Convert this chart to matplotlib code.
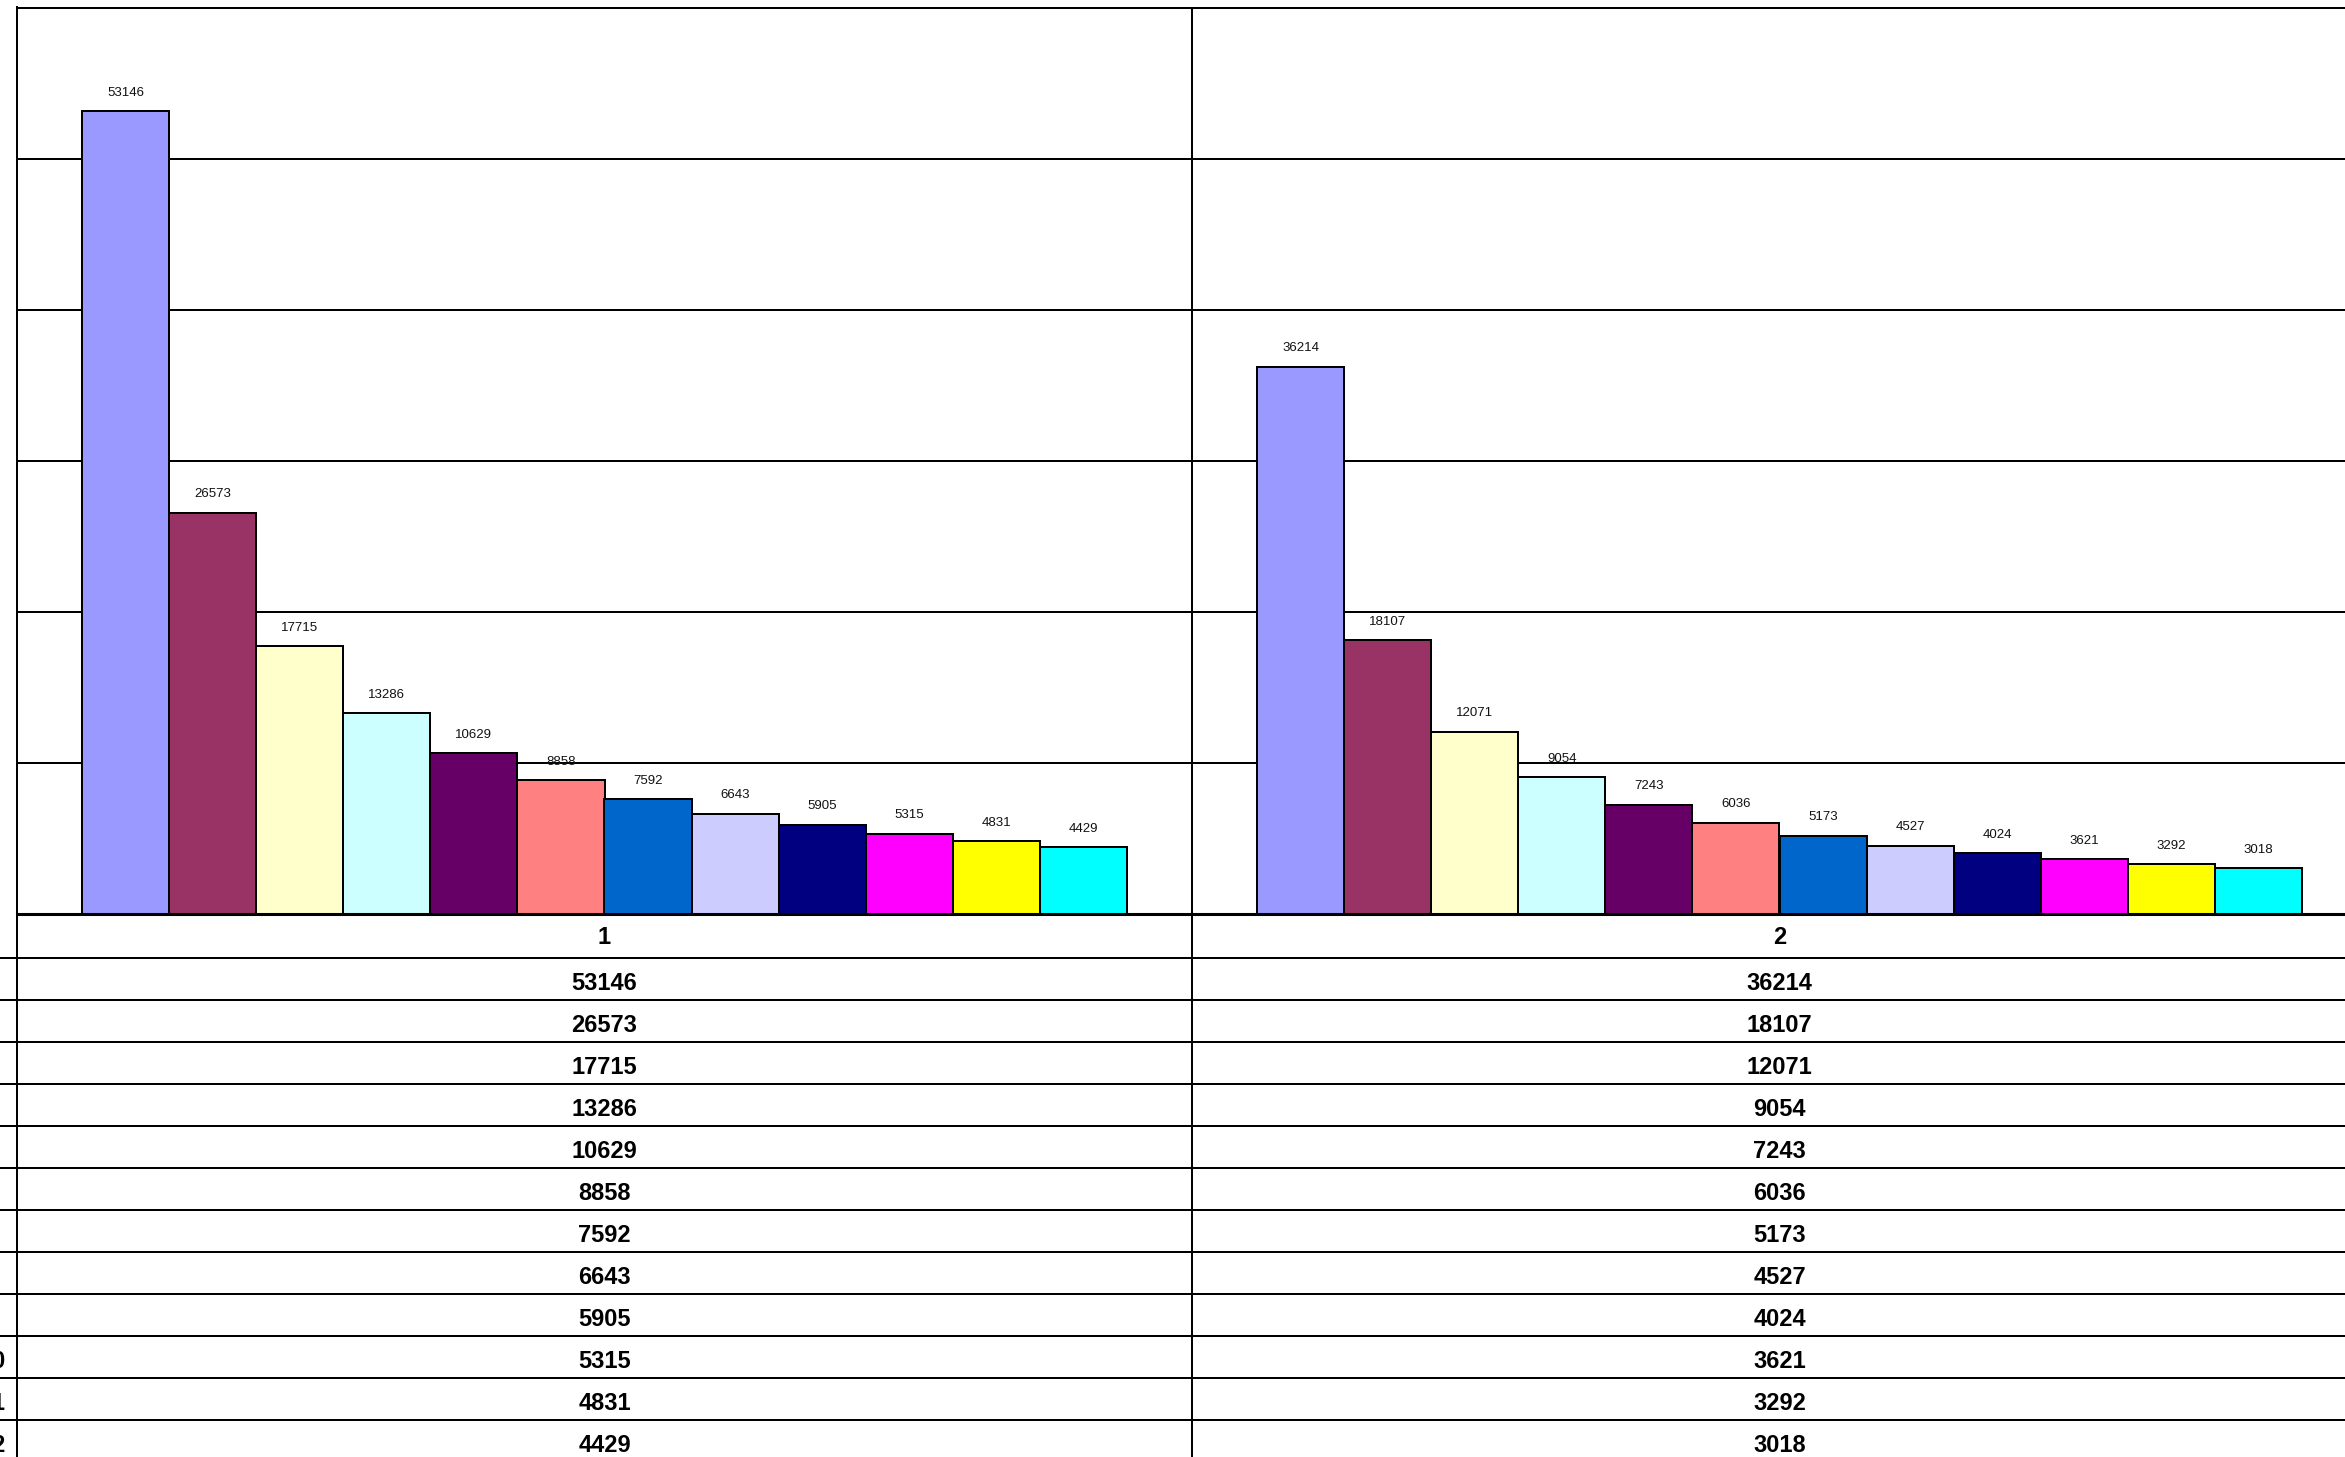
import numpy as np
import matplotlib
matplotlib.use('Agg')
from matplotlib import pyplot as plt

plt.rcParams['font.family'] = ['Liberation Sans', 'DejaVu Sans']

categories = ['1', '2']
series_names = [str(i) for i in range(1, 13)]
values_cat1 = [53146, 26573, 17715, 13286, 10629, 8858, 7592, 6643, 5905, 5315, 4831, 4429]
values_cat2 = [36214, 18107, 12071, 9054, 7243, 6036, 5173, 4527, 4024, 3621, 3292, 3018]
colors = ['#9999FF', '#993366', '#FFFFCC', '#CCFFFF', '#660066', '#FF8080',
          '#0066CC', '#CCCCFF', '#000080', '#FF00FF', '#FFFF00', '#00FFFF']

W, H = 2345, 1457
plot_left = 17
plot_top = 7.5
plot_bottom = 914
cat_px = 1175.0
header_h = 44
row_h = 42
lw = 1.44

fig = plt.figure(figsize=(W / 100, H / 100), dpi=100)
fig.patch.set_facecolor('white')

xlim = (-0.5, -0.5 + (W - plot_left) / cat_px)

# chart area
ax = fig.add_axes([plot_left / W, (H - plot_bottom) / H,
                   1 - plot_left / W, (plot_bottom - plot_top) / H])
ax.set_xlim(*xlim)
ax.set_ylim(0, 60000)

n = len(colors)
gap = 1.5
bw = 1.0 / (n + gap)
cats = np.arange(len(categories))
for j in range(n):
    x = cats - 0.5 + (gap / 2 + j + 0.5) * bw
    bars = ax.bar(x, [values_cat1[j], values_cat2[j]], width=bw, color=colors[j],
                  edgecolor='black', linewidth=lw, zorder=3)
    ax.bar_label(bars, padding=9, fontsize=9.5, color='#111111')

ax.set_yticks(range(0, 60001, 10000))
ax.set_xticks([])
ax.yaxis.grid(True, color='black', linewidth=lw)
ax.set_axisbelow(True)
ax.tick_params(length=0, labelleft=False, labelbottom=False)
ax.axvline(0.5, color='black', linewidth=lw, zorder=2)
ax.spines['right'].set_visible(False)
ax.spines['top'].set_linewidth(lw)
ax.spines['left'].set_linewidth(lw)
ax.spines['bottom'].set_linewidth(2.2)
ax.spines['bottom'].set_zorder(5)

# data table below
tax = fig.add_axes([plot_left / W, 0, 1 - plot_left / W, (H - plot_bottom) / H])
tax.set_xlim(*xlim)
tax.set_ylim(H - plot_bottom, 0)
tax.axis('off')

x_fig0 = -0.5 - plot_left / cat_px - 0.01
for k in range(n + 1):
    y = header_h + row_h * k
    tax.hlines(y, x_fig0, xlim[1], color='black', linewidth=lw, clip_on=False)
tax.axvline(-0.5, color='black', linewidth=lw, clip_on=False)
tax.axvline(0.5, color='black', linewidth=lw)

tfont = dict(fontsize=17, fontweight='bold', ha='center', va='center')
for c, name in enumerate(categories):
    tax.text(c, header_h / 2 + 1, name, **tfont)
table_vals = [values_cat1, values_cat2]
for j in range(n):
    yc = header_h + row_h * (j + 0.5) + 4
    for c in range(len(categories)):
        tax.text(c, yc, str(table_vals[c][j]), **tfont)
    # row headers sit mostly outside the cropped picture, as in the reference
    tax.text(-0.5 - (plot_left + 7.5) / cat_px, yc, series_names[j], clip_on=False, **tfont)

fig.savefig('out.png', dpi=100)
